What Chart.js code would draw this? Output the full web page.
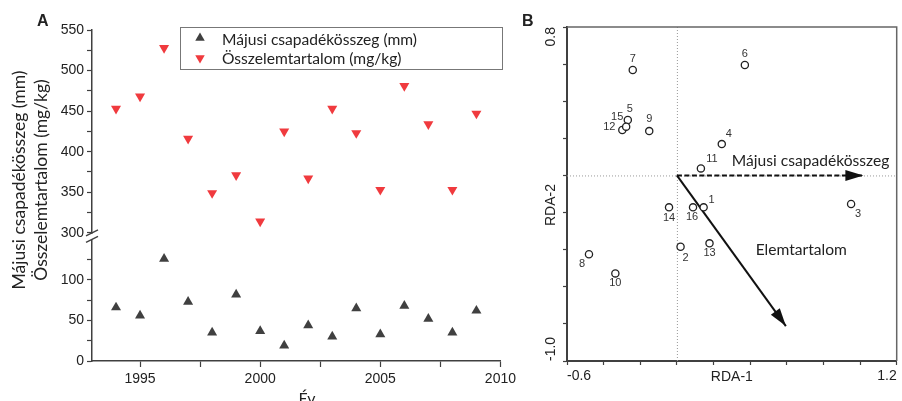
<!DOCTYPE html>
<html>
<head>
<meta charset="utf-8">
<script src="https://cdn.jsdelivr.net/npm/chart.js@4.4.1/dist/chart.umd.min.js"></script>
<style>
    html, body { margin: 0; padding: 0; background: #fff; }
    #wrap { position: relative; width: 902px; height: 401px; overflow: hidden; }
    #chartA { position: absolute; left: 0; top: 0; }
    #chartB { position: absolute; left: 520px; top: 0; }
</style>
</head>
<body>
<div id="wrap">
    <canvas id="chartA" width="520" height="401"></canvas>
    <canvas id="chartB" width="382" height="401"></canvas>
</div>
<script>
// ---- panel A: yearly values ----
const years = [1994, 1995, 1996, 1997, 1998, 1999, 2000, 2001, 2002, 2003, 2004, 2005, 2006, 2007, 2008, 2009];
const mayPrecip = [66, 56, 126, 73, 35, 82, 37, 19, 44, 30, 65, 33, 68, 52, 35, 62];
const totalElements = [453, 468, 528, 416, 349, 371, 314, 425, 367, 453, 423, 353, 481, 434, 353, 447];
const seriesNames = ["Májusi csapadékösszeg (mm)", "Összelemtartalom (mg/kg)"];
const yearTicks = [1995, 2000, 2005, 2010];
const yearMinorTicks = [1997.5, 2002.5, 2007.5];
const precipTicks = [0, 50, 100];
const precipMinorTicks = [25, 75, 125];
const elementTicks = [300, 350, 400, 450, 500, 550];
const elementMinorTicks = [325, 375, 425, 475, 525];

// ---- panel B: RDA biplot ----
const siteIds = ["1", "2", "3", "4", "5", "6", "7", "8", "9", "10", "11", "12", "13", "14", "15", "16"];
const siteRda1 = [0.146, 0.020, 0.951, 0.245, -0.268, 0.371, -0.241, -0.480, -0.151, -0.336, 0.131, -0.298, 0.178, -0.043, -0.277, 0.088];
const siteRda2 = [-0.172, -0.384, -0.154, 0.169, 0.299, 0.595, 0.568, -0.425, 0.239, -0.528, 0.038, 0.245, -0.366, -0.172, 0.263, -0.172];
const envNames = ["Májusi csapadékösszeg", "Elemtartalom"];
const envRda1 = [1.018, 0.595];
const envRda2 = [0, -0.812];
const rda1Ticks = [-0.6, -0.4, -0.2, 0, 0.2, 0.4, 0.6, 0.8, 1.0, 1.2];
const rda2Ticks = [-1.0, -0.8, -0.6, -0.4, -0.2, 0, 0.2, 0.4, 0.6, 0.8];
const rda1TickLabels = ["-0.6", "1.2"];
const rda2TickLabels = ["-1.0", "0.8"];

const AXIS = "#404040";
const TEXT = "#222";
const tickFont = { family: "'Liberation Sans', Arial, sans-serif", size: 14 };
const LATO = "Lato, 'Open Sans', sans-serif";

// label offsets (px) for site numbers, relative to the circle
const siteLabelShift = {
    "1": [8, -7], "2": [5, 11], "3": [7, 10], "4": [7, -10], "5": [2, -11], "6": [0, -11],
    "7": [0, -11], "8": [-7, 10], "9": [0, -12], "10": [0, 10], "11": [11, -9], "12": [-13, -3],
    "13": [0, 10], "14": [0, 11], "15": [-9, -10], "16": [-1, 10],
};

function tickList(values) {
    return (scale) => { scale.ticks = values.map(v => ({ value: v })); };
}

function triangle(ctx, x, y, r, down) {
    ctx.save();
    ctx.translate(x, y);
    if (down) ctx.rotate(Math.PI);
    ctx.beginPath();
    ctx.moveTo(0, -r);
    ctx.lineTo(r * Math.sin(Math.PI * 2 / 3), r / 2);
    ctx.lineTo(-r * Math.sin(Math.PI * 2 / 3), r / 2);
    ctx.closePath();
    ctx.fill();
    ctx.restore();
}

// ---------------- panel A ----------------
const panelAExtras = {
    id: "panelAExtras",
    afterDraw(chart) {
        const { ctx, chartArea, scales } = chart;
        const ax = chartArea.left;
        const yTop = scales.yHigh.getPixelForValue(elementTicks[0]);
        const yBot = scales.yLow.top;
        ctx.save();

        // axis break
        ctx.fillStyle = "#fff";
        ctx.fillRect(ax - 3, yTop + 1, 6, yBot - yTop - 1);
        ctx.strokeStyle = AXIS;
        ctx.lineWidth = 1.3;
        [yTop, yBot].forEach(y => {
            ctx.beginPath();
            ctx.moveTo(ax - 6, y + 3);
            ctx.lineTo(ax + 6, y - 3);
            ctx.stroke();
        });

        // legend box
        ctx.strokeStyle = "#777";
        ctx.lineWidth = 1;
        ctx.strokeRect(180.5, 27.5, 322, 42);
        ctx.fillStyle = chart.data.datasets[0].backgroundColor;
        triangle(ctx, 200, 38, 5.5, false);
        ctx.fillStyle = chart.data.datasets[1].backgroundColor;
        triangle(ctx, 200, 58, 5.5, true);
        ctx.fillStyle = TEXT;
        ctx.font = "15.6px " + LATO;
        ctx.textBaseline = "middle";
        ctx.textAlign = "left";
        ctx.fillText(seriesNames[0], 222, 40);
        ctx.fillText(seriesNames[1], 222, 59);

        // y title (two lines)
        ctx.font = "17.5px " + LATO;
        ctx.textAlign = "center";
        ctx.save();
        ctx.translate(19, 180);
        ctx.rotate(-Math.PI / 2);
        ctx.fillText(seriesNames[0], 0, 0);
        ctx.restore();
        ctx.save();
        ctx.translate(41, 180);
        ctx.rotate(-Math.PI / 2);
        ctx.fillText(seriesNames[1], 0, 0);
        ctx.restore();

        // x title
        ctx.font = "16px " + LATO;
        ctx.textBaseline = "alphabetic";
        ctx.fillText("Év", 307, 404);

        // panel letter
        ctx.font = "bold 16px 'Liberation Sans', Arial, sans-serif";
        ctx.textAlign = "left";
        ctx.fillText("A", 37, 26);
        ctx.restore();
    },
};

const yAxisCommon = {
    type: "linear",
    position: "left",
    stack: "left",
    ticks: { font: tickFont, color: TEXT, padding: 3, autoSkip: false },
    grid: { drawOnChartArea: false, tickLength: 5, color: AXIS, tickWidth: 1.2 },
    border: { color: AXIS, width: 1.5 },
    afterFit: s => { s.width = 92; },
};

new Chart(document.getElementById("chartA"), {
    type: "scatter",
    data: {
        datasets: [
            {
                label: seriesNames[0],
                data: years.map((y, i) => ({ x: y, y: mayPrecip[i] })),
                yAxisID: "yLow",
                pointStyle: "triangle",
                rotation: 0,
                pointRadius: 5.8,
                backgroundColor: "#404040",
                borderColor: "#404040",
                borderWidth: 0,
            },
            {
                label: seriesNames[1],
                data: years.map((y, i) => ({ x: y, y: totalElements[i] })),
                yAxisID: "yHigh",
                pointStyle: "triangle",
                rotation: 180,
                pointRadius: 5.8,
                backgroundColor: "#f03a3e",
                borderColor: "#f03a3e",
                borderWidth: 0,
            },
        ],
    },
    options: {
        responsive: false,
        animation: false,
        devicePixelRatio: 1,
        layout: { padding: { top: 30, right: 19, bottom: 0, left: 0 } },
        plugins: { legend: { display: false }, tooltip: { enabled: false } },
        scales: {
            x: {
                type: "linear",
                min: 1993,
                max: 2010,
                afterBuildTicks: tickList([...yearTicks, ...yearMinorTicks].sort((a, b) => a - b)),
                ticks: {
                    font: tickFont, color: TEXT, padding: 4, autoSkip: false, maxRotation: 0,
                    callback: v => yearTicks.includes(v) ? String(v) : "",
                },
                grid: { drawOnChartArea: false, tickLength: 6, color: AXIS, tickWidth: 1.2 },
                border: { color: AXIS, width: 1.5 },
                afterFit: s => { s.height = 40; },
            },
            yLow: {
                ...yAxisCommon,
                stackWeight: 150,
                min: 0,
                max: 150,
                afterBuildTicks: tickList([...precipTicks, ...precipMinorTicks].sort((a, b) => a - b)),
                ticks: { ...yAxisCommon.ticks, callback: v => precipTicks.includes(v) ? String(v) : "" },
            },
            yHigh: {
                ...yAxisCommon,
                stackWeight: 258,
                min: 292,
                max: 550,
                afterBuildTicks: tickList([...elementTicks, ...elementMinorTicks].sort((a, b) => a - b)),
                ticks: { ...yAxisCommon.ticks, callback: v => elementTicks.includes(v) ? String(v) : "" },
            },
        },
    },
    plugins: [panelAExtras],
});

// ---------------- panel B ----------------
function arrowHead(ctx, from, to, len, half) {
    const a = Math.atan2(to.y - from.y, to.x - from.x);
    ctx.save();
    ctx.translate(to.x, to.y);
    ctx.rotate(a);
    ctx.beginPath();
    ctx.moveTo(0, 0);
    ctx.lineTo(-len, -half);
    ctx.lineTo(-len, half);
    ctx.closePath();
    ctx.fill();
    ctx.restore();
}

const panelBExtras = {
    id: "panelBExtras",
    beforeDatasetsDraw(chart) {
        const { ctx, chartArea, scales } = chart;
        const x0 = scales.x.getPixelForValue(0);
        const y0 = scales.y.getPixelForValue(0);
        ctx.save();
        ctx.strokeStyle = "#999";
        ctx.lineWidth = 1;
        ctx.setLineDash([1, 2]);
        ctx.beginPath();
        ctx.moveTo(x0 + 0.5, chartArea.top);
        ctx.lineTo(x0 + 0.5, chartArea.bottom);
        ctx.moveTo(chartArea.left, y0 + 0.5);
        ctx.lineTo(chartArea.right, y0 + 0.5);
        ctx.stroke();
        ctx.restore();
    },
    afterDatasetsDraw(chart) {
        const { ctx, scales } = chart;
        ctx.save();
        // arrow heads
        ctx.fillStyle = "#111";
        [1, 2].forEach(di => {
            const pts = chart.getDatasetMeta(di).data;
            arrowHead(ctx, pts[0], pts[1], 18, 5.5);
        });
        // site numbers
        ctx.fillStyle = "#333";
        ctx.font = "11px 'Liberation Sans', Arial, sans-serif";
        ctx.textAlign = "center";
        ctx.textBaseline = "middle";
        chart.getDatasetMeta(0).data.forEach((pt, i) => {
            const s = siteLabelShift[siteIds[i]];
            ctx.fillText(siteIds[i], pt.x + s[0], pt.y + s[1]);
        });
        // vector names
        ctx.fillStyle = TEXT;
        ctx.font = "15.6px " + LATO;
        ctx.textAlign = "left";
        ctx.fillText(envNames[0], scales.x.getPixelForValue(0.3), scales.y.getPixelForValue(0.08));
        ctx.fillText(envNames[1], scales.x.getPixelForValue(0.43), scales.y.getPixelForValue(-0.4));
        ctx.restore();
    },
    afterDraw(chart) {
        const { ctx, chartArea, scales } = chart;
        ctx.save();
        // top and right frame
        ctx.strokeStyle = "#666";
        ctx.lineWidth = 1.5;
        ctx.beginPath();
        ctx.moveTo(chartArea.left, chartArea.top);
        ctx.lineTo(chartArea.right, chartArea.top);
        ctx.lineTo(chartArea.right, chartArea.bottom);
        ctx.stroke();

        // rotated y labels
        ctx.fillStyle = TEXT;
        ctx.font = "14px 'Liberation Sans', Arial, sans-serif";
        ctx.textBaseline = "middle";
        const lx = 31;
        const put = (txt, y, align) => {
            ctx.save();
            ctx.translate(lx, y);
            ctx.rotate(-Math.PI / 2);
            ctx.textAlign = align;
            ctx.fillText(txt, 0, 0);
            ctx.restore();
        };
        put(rda2TickLabels[0], scales.y.getPixelForValue(rda2Ticks[0]), "left");
        put(rda2TickLabels[1], scales.y.getPixelForValue(rda2Ticks[rda2Ticks.length - 1]), "right");
        put("RDA-2", (chartArea.top + chartArea.bottom) / 2 + 11, "center");

        // x title
        ctx.textAlign = "center";
        ctx.fillText("RDA-1", (chartArea.left + chartArea.right) / 2, 377);

        // panel letter
        ctx.font = "bold 16px 'Liberation Sans', Arial, sans-serif";
        ctx.textAlign = "left";
        ctx.textBaseline = "alphabetic";
        ctx.fillText("B", 2, 26);
        ctx.restore();
    },
};

new Chart(document.getElementById("chartB"), {
    type: "scatter",
    data: {
        datasets: [
            {
                label: "Mintavételi helyek",
                data: siteIds.map((id, i) => ({ x: siteRda1[i], y: siteRda2[i] })),
                pointStyle: "circle",
                pointRadius: 3.6,
                backgroundColor: "#fff",
                borderColor: "#222",
                borderWidth: 1.3,
            },
            {
                label: envNames[0],
                data: [{ x: 0, y: 0 }, { x: envRda1[0], y: envRda2[0] }],
                showLine: true,
                borderColor: "#111",
                borderWidth: 2,
                borderDash: [5, 2.5],
                pointRadius: 0,
            },
            {
                label: envNames[1],
                data: [{ x: 0, y: 0 }, { x: envRda1[1], y: envRda2[1] }],
                showLine: true,
                borderColor: "#111",
                borderWidth: 2,
                pointRadius: 0,
            },
        ],
    },
    options: {
        responsive: false,
        animation: false,
        devicePixelRatio: 1,
        layout: { padding: { top: 27, right: 1, bottom: 0, left: 0 } },
        plugins: { legend: { display: false }, tooltip: { enabled: false } },
        scales: {
            x: {
                type: "linear",
                min: -0.6,
                max: 1.2,
                afterBuildTicks: tickList(rda1Ticks),
                ticks: {
                    font: tickFont, color: TEXT, padding: 3, autoSkip: false, maxRotation: 0, align: "inner",
                    callback: (v, i, t) => i === 0 ? rda1TickLabels[0] : (i === t.length - 1 ? rda1TickLabels[1] : ""),
                },
                grid: { drawOnChartArea: false, tickLength: 4, color: AXIS, tickWidth: 1.2 },
                border: { color: AXIS, width: 2 },
                afterFit: s => { s.height = 40; },
            },
            y: {
                type: "linear",
                min: -1.0,
                max: 0.8,
                afterBuildTicks: tickList(rda2Ticks),
                ticks: { display: false },
                grid: { drawOnChartArea: false, tickLength: 4, color: AXIS, tickWidth: 1.2 },
                border: { color: AXIS, width: 2 },
                afterFit: s => { s.width = 47; },
            },
        },
    },
    plugins: [panelBExtras],
});
</script>
</body>
</html>
